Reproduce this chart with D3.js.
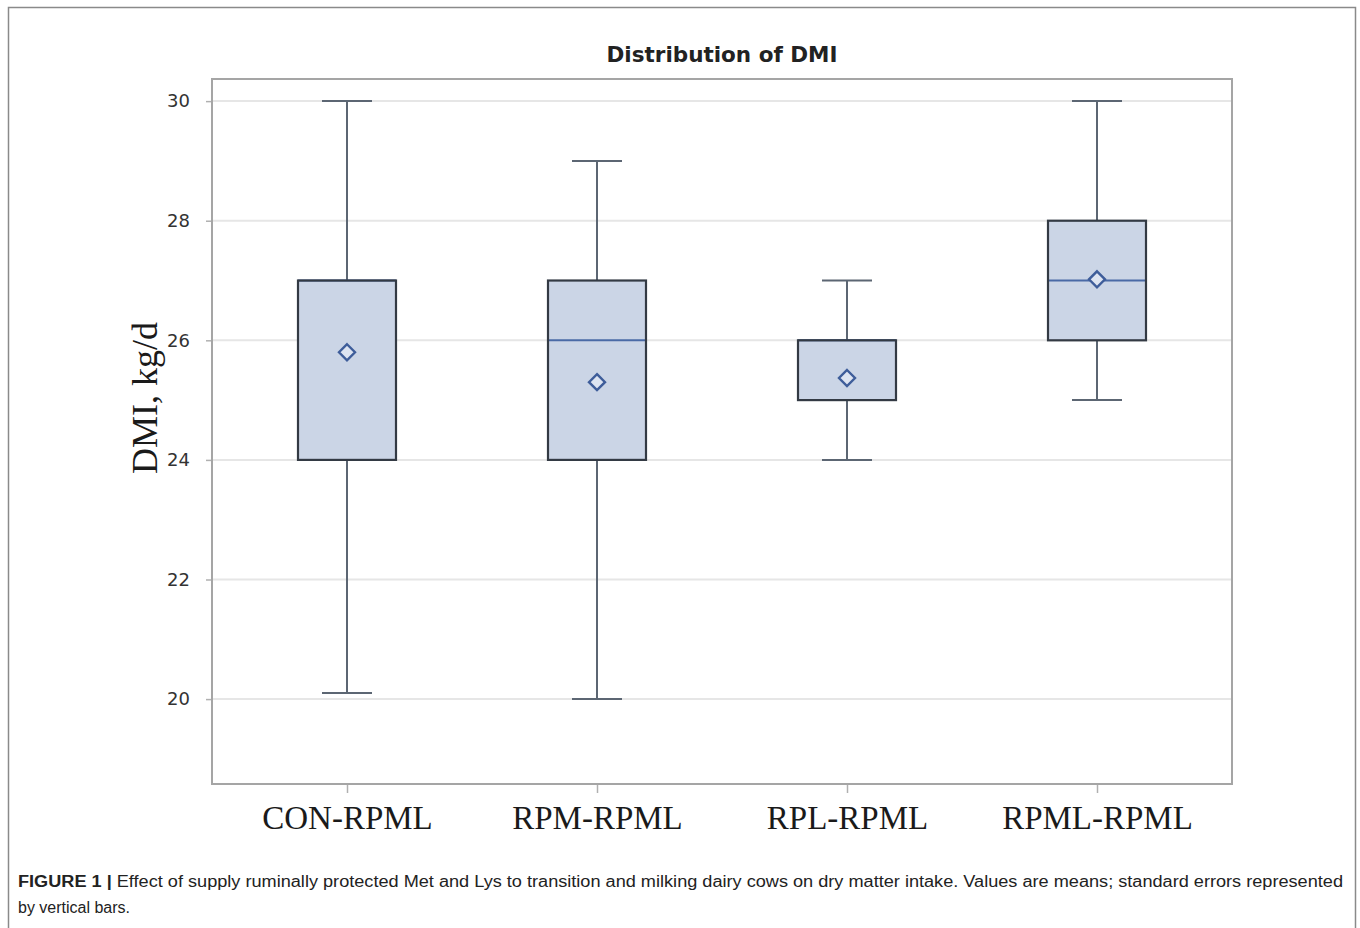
<!DOCTYPE html>
<html>
<head>
<meta charset="utf-8">
<script src="https://cdn.jsdelivr.net/npm/d3@7"></script>
<style>
  html, body { margin: 0; padding: 0; background: #fff; }
  svg { display: block; }
</style>
</head>
<body>
<script>
// DMI distribution per treatment group
const groups  = ["CON-RPML", "RPM-RPML", "RPL-RPML", "RPML-RPML"];
const mins    = [20.1, 20, 24, 25];
const q1s     = [24, 24, 25, 26];
const medians = [27, 26, 26, 27];
const q3s     = [27, 27, 26, 28];
const maxs    = [30, 29, 27, 30];
const means   = [25.8, 25.3, 25.37, 27.02];
const yTicks  = [20, 22, 24, 26, 28, 30];

const W = 1360, H = 928;
const plot = { left: 212, top: 79, right: 1232, bottom: 784 };

const svg = d3.select("body").append("svg")
  .attr("width", W).attr("height", H);

// figure border
svg.append("rect")
  .attr("x", 8.5).attr("y", 7.5)
  .attr("width", 1347).attr("height", 925)
  .attr("fill", "none").attr("stroke", "#8a8a8a").attr("stroke-width", 1.5);

const y = d3.scaleLinear().domain([18.58, 30.37]).range([plot.bottom, plot.top]);
const x = d3.scalePoint().domain(groups).range([plot.left, plot.right]).padding(0.54);

// gridlines
svg.append("g")
  .selectAll("line").data(yTicks).join("line")
  .attr("x1", plot.left).attr("x2", plot.right)
  .attr("y1", d => y(d)).attr("y2", d => y(d))
  .attr("stroke", "#e6e6e6").attr("stroke-width", 2);

// axes
const yAxis = svg.append("g")
  .attr("transform", `translate(${plot.left},0)`)
  .call(d3.axisLeft(y).tickValues(yTicks).tickSize(6).tickPadding(16).tickFormat(d3.format("d")));
yAxis.select(".domain").remove();
yAxis.selectAll(".tick line").attr("stroke", "#b0b0b0").attr("stroke-width", 1.5);
yAxis.selectAll(".tick text")
  .attr("fill", "#333")
  .style("font-family", "'DejaVu Sans', sans-serif")
  .style("font-size", "18px");

const xAxis = svg.append("g")
  .attr("transform", `translate(0,${plot.bottom})`)
  .call(d3.axisBottom(x).tickSize(9).tickPadding(13));
xAxis.select(".domain").remove();
xAxis.selectAll(".tick line").attr("stroke", "#b0b0b0").attr("stroke-width", 1.5);
xAxis.selectAll(".tick text")
  .attr("fill", "#1a1a1a")
  .style("font-family", "'Liberation Serif', 'Times New Roman', serif")
  .style("font-size", "33px");

// plot frame
svg.append("rect")
  .attr("x", plot.left).attr("y", plot.top)
  .attr("width", plot.right - plot.left).attr("height", plot.bottom - plot.top)
  .attr("fill", "none").attr("stroke", "#a5a5a5").attr("stroke-width", 2);

// box plots
const boxW = 98, capW = 50;
const data = groups.map((g, i) => ({
  g, min: mins[i], q1: q1s[i], med: medians[i], q3: q3s[i], max: maxs[i], mean: means[i]
}));

const box = svg.append("g").selectAll("g").data(data).join("g")
  .attr("transform", d => `translate(${x(d.g)},0)`);

// whiskers
box.append("line")
  .attr("x1", 0).attr("x2", 0)
  .attr("y1", d => y(d.max)).attr("y2", d => y(d.q3))
  .attr("stroke", "#5c6673").attr("stroke-width", 2);
box.append("line")
  .attr("x1", 0).attr("x2", 0)
  .attr("y1", d => y(d.q1)).attr("y2", d => y(d.min))
  .attr("stroke", "#5c6673").attr("stroke-width", 2);
box.append("line")
  .attr("x1", -capW / 2).attr("x2", capW / 2)
  .attr("y1", d => y(d.max)).attr("y2", d => y(d.max))
  .attr("stroke", "#5c6673").attr("stroke-width", 2);
box.append("line")
  .attr("x1", -capW / 2).attr("x2", capW / 2)
  .attr("y1", d => y(d.min)).attr("y2", d => y(d.min))
  .attr("stroke", "#5c6673").attr("stroke-width", 2);

// box body
box.append("rect")
  .attr("x", -boxW / 2).attr("width", boxW)
  .attr("y", d => y(d.q3)).attr("height", d => y(d.q1) - y(d.q3))
  .attr("fill", "#cbd5e6").attr("stroke", "none");

// median
box.append("line")
  .attr("x1", -boxW / 2).attr("x2", boxW / 2)
  .attr("y1", d => y(d.med)).attr("y2", d => y(d.med))
  .attr("stroke", "#4a6aa6").attr("stroke-width", 2);

// box outline
box.append("rect")
  .attr("x", -boxW / 2).attr("width", boxW)
  .attr("y", d => y(d.q3)).attr("height", d => y(d.q1) - y(d.q3))
  .attr("fill", "none").attr("stroke", "#333a44").attr("stroke-width", 2.2);

// mean marker
const dm = 8;
box.append("path")
  .attr("d", d => {
    const cy = y(d.mean);
    return `M0,${cy - dm}L${dm},${cy}L0,${cy + dm}L${-dm},${cy}Z`;
  })
  .attr("fill", "#dde4f1").attr("stroke", "#3e5d9a").attr("stroke-width", 2.4);

// title
svg.append("text")
  .attr("x", (plot.left + plot.right) / 2).attr("y", 62)
  .attr("text-anchor", "middle")
  .style("font-family", "'DejaVu Sans', Verdana, sans-serif")
  .style("font-weight", "bold").style("font-size", "21.5px")
  .attr("fill", "#222")
  .text("Distribution of DMI");

// y-axis label
svg.append("text")
  .attr("transform", "translate(157,398) rotate(-90)")
  .attr("text-anchor", "middle")
  .style("font-family", "'Liberation Serif', 'Times New Roman', serif")
  .style("font-size", "36px")
  .attr("fill", "#1a1a1a")
  .text("DMI, kg/d");

// caption
const cap = svg.append("text")
  .attr("x", 18).attr("y", 887)
  .style("font-family", "'Liberation Sans', Arial, sans-serif")
  .style("font-size", "16px")
  .attr("fill", "#222")
  .attr("textLength", 1325).attr("lengthAdjust", "spacingAndGlyphs");
cap.append("tspan").style("font-weight", "bold").text("FIGURE 1 | ");
cap.append("tspan").text("Effect of supply ruminally protected Met and Lys to transition and milking dairy cows on dry matter intake. Values are means; standard errors represented");

svg.append("text")
  .attr("x", 18).attr("y", 913)
  .style("font-family", "'Liberation Sans', Arial, sans-serif")
  .style("font-size", "16px")
  .attr("fill", "#222")
  .text("by vertical bars.");
</script>
</body>
</html>
